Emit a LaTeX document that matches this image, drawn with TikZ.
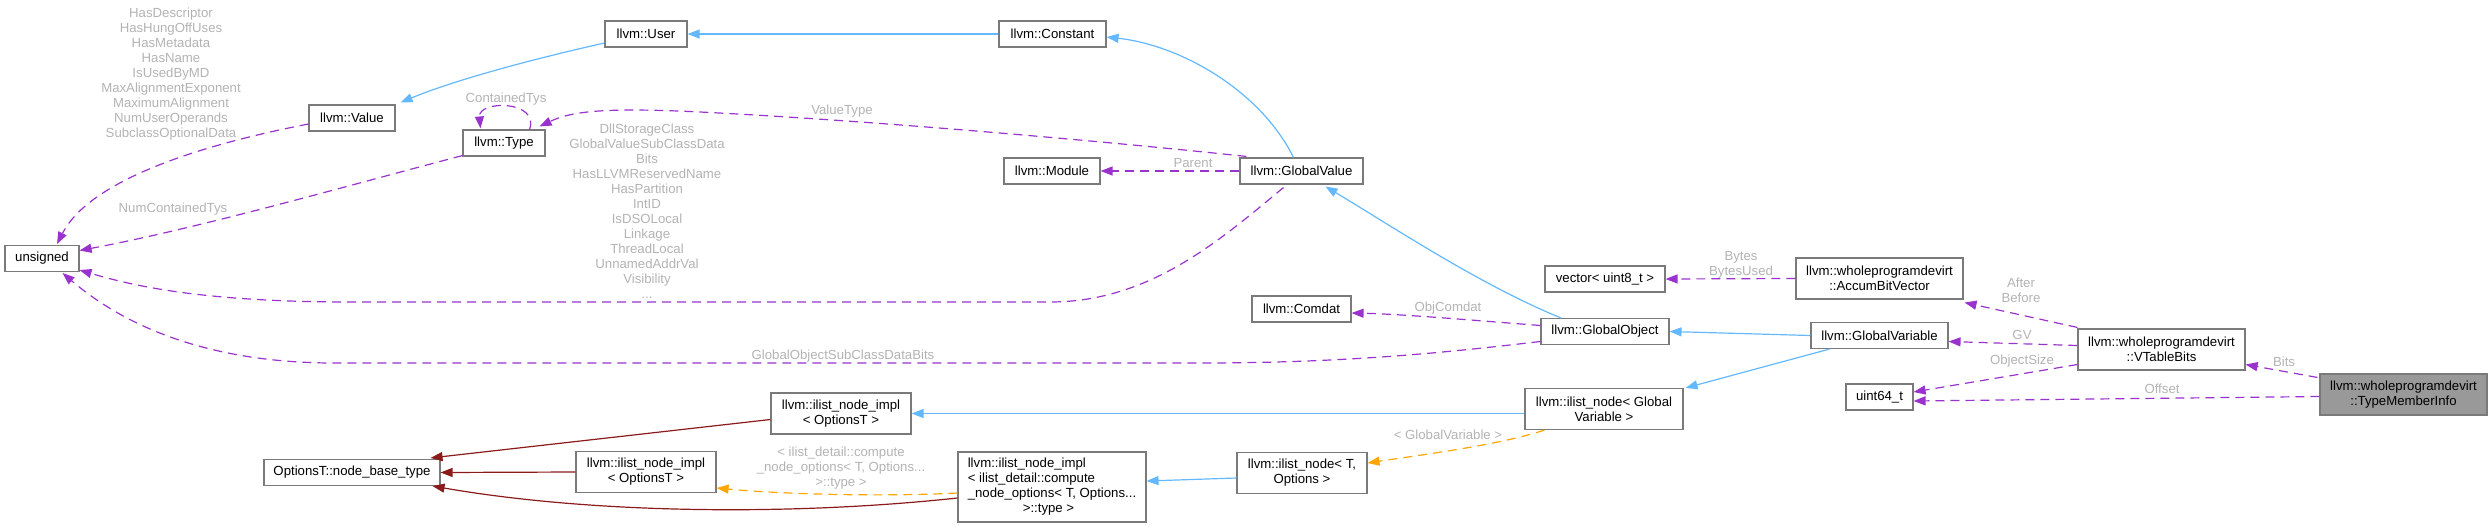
\documentclass[tikz,border=0pt]{standalone}
\usepackage{fontspec}
\setmainfont{Liberation Sans}
\usetikzlibrary{arrows.meta,calc}
\definecolor{eblue}{HTML}{63B8FF}
\definecolor{epurple}{HTML}{9A32CD}
\definecolor{eorange}{HTML}{FFA500}
\definecolor{ered}{HTML}{8B1A1A}
\definecolor{boxgray}{HTML}{7A7A7A}
\definecolor{labgray}{HTML}{B3B3B3}
\definecolor{selfill}{HTML}{999999}
\begin{document}
\begin{tikzpicture}[x=1pt,y=-1pt,
  font=\fontsize{13.2}{15}\selectfont,
  cls/.style={draw=boxgray, line width=1.1pt, fill=white, inner sep=0pt, align=center, minimum height=26},
  tall/.style={minimum height=41},
  sel/.style={fill=selfill},
  lab/.style={text=labgray, align=center, inner sep=0pt},
  tip/.style={-{Triangle[length=12pt,width=9pt]}},
  pub/.style={tip, draw=eblue, line width=1.2pt},
  priv/.style={tip, draw=ered, line width=1.2pt},
  use/.style={tip, draw=epurple, line width=1.2pt, dash pattern=on 9pt off 6pt},
  tmpl/.style={tip, draw=eorange, line width=1.2pt, dash pattern=on 9pt off 6pt}]
\useasboundingbox (0,0) rectangle (2492,528);

% nodes
\node[cls, minimum width=74] (unsigned) at (42,258.5) {unsigned};
\node[cls, minimum width=86] (Value) at (352,118) {llvm::Value};
\node[cls, minimum width=82] (User) at (646,34) {llvm::User};
\node[cls, minimum width=107] (Constant) at (1052.5,34) {llvm::Constant};
\node[cls, minimum width=82] (Type) at (504,143) {llvm::Type};
\node[cls, minimum width=96] (Module) at (1052,171) {llvm::Module};
\node[cls, minimum width=123] (GV) at (1301.5,171) {llvm::GlobalValue};
\node[cls, minimum width=99] (Comdat) at (1301.5,309) {llvm::Comdat};
\node[cls, minimum width=128] (GO) at (1605,331.5) {llvm::GlobalObject};
\node[cls, minimum width=120] (vector) at (1605,279) {vector< uint8\_t >};
\node[cls, tall, minimum width=167] (ABV) at (1879.5,278.5) {llvm::wholeprogramdevirt\\::AccumBitVector};
\node[cls, minimum width=137] (GVar) at (1879.5,335.5) {llvm::GlobalVariable};
\node[cls, tall, minimum width=167] (VTB) at (2161.5,349.5) {llvm::wholeprogramdevirt\\::VTableBits};
\node[cls, minimum width=67] (uint64) at (1879.5,397) {uint64\_t};
\node[cls, tall, sel, minimum width=167] (TMI) at (2403.5,394.5) {llvm::wholeprogramdevirt\\::TypeMemberInfo};
\node[cls, tall, minimum width=158] (ilGV) at (1604,409) {llvm::ilist\_node< Global\\Variable >};
\node[cls, tall, minimum width=140] (impl1) at (841,413.5) {llvm::ilist\_node\_impl\\< OptionsT >};
\node[cls, minimum width=176] (nbt) at (352,472.5) {OptionsT::node\_base\_type};
\node[cls, tall, minimum width=140] (impl2) at (646,472) {llvm::ilist\_node\_impl\\< OptionsT >};
\node[cls, minimum width=188, minimum height=70, align=left] (comp) at (1052,487) {llvm::ilist\_node\_impl\\< ilist\_detail::compute\\\_node\_options< T, Options...\\\hspace*{55pt}>::type >};
\node[cls, tall, minimum width=130] (ilTO) at (1302,473) {llvm::ilist\_node< T,\\Options >};

% edges: inheritance
\draw[pub] ($(User.west)+(0,9)$) .. controls (520,62) and (450,82) .. ($(Value.north east)+(5,-2)$);
\draw[pub] (Constant.west) -- (User.east);
\draw[pub] ($(GV.north)+(-8,0)$) .. controls (1260,90) and (1180,45) .. ($(Constant.east)+(0,3)$);
\draw[pub] ($(GO.north)+(-44,0)$) .. controls (1480,285) and (1390,225) .. ($(GV.south)+(24,2)$);
\draw[pub] (GVar.west) -- (GO.east);
\draw[pub] ($(GVar.south)+(-50,0)$) -- ($(ilGV.north east)+(2,0)$);
\draw[pub] (ilGV.west |- impl1.east) -- (impl1.east);
\draw[pub] ($(ilTO.west)+(0,5)$) -- ($(comp.east)+(0,-6)$);
\draw[priv] ($(impl1.west)+(0,6)$) -- ($(nbt.north east)+(-10,-1)$);
\draw[priv] (impl2.west) -- (nbt.east);
\draw[priv] ($(comp.west)+(0,11)$) .. controls (800,515) and (600,515) .. ($(nbt.south east)+(-8,0)$);

% edges: template
\draw[tmpl] ($(ilGV.south west)+(20,0)$) .. controls (1500,445) and (1420,455) .. ($(ilTO.east)+(0,-10)$);
\draw[tmpl] ($(comp.west)+(0,6)$) .. controls (880,497) and (780,494) .. ($(impl2.east)+(0,16)$);

% edges: usage
\draw[use] (GV.west) -- (Module.east);
\draw[use] ($(GV.north west)+(7,-1)$) .. controls (1150,146) and (900,122) .. (700,112) .. controls (600,107) and (570,112) .. ($(Type.north east)+(-6,-3)$);
\draw[use] ($(Type.north east)+(-16,0)$) .. controls (540,100) and (478,100) .. ($(Type.north west)+(18,-1)$);
\draw[use] ($(Value.west)+(0,6)$) .. controls (200,145) and (90,180) .. ($(unsigned.north)+(15,-1)$);
\draw[use] ($(Type.south west)+(0,-1)$) .. controls (350,185) and (200,228) .. ($(unsigned.east)+(0,-8)$);
\draw[use] ($(GV.south)+(-18,3)$) .. controls (1220,240) and (1150,302) .. (1050,302) -- (350,302) .. controls (200,302) and (130,285) .. ($(unsigned.south east)+(0,-2)$);
\draw[use] ($(GO.west)+(0,10)$) .. controls (1450,352) and (1350,363) .. (1200,363) -- (330,363) .. controls (200,362) and (120,322) .. ($(unsigned.south east)+(-17,1)$);
\draw[use] ($(GO.west)+(0,-6)$) .. controls (1470,320) and (1400,314) .. ($(Comdat.east)+(0,4)$);
\draw[use] (ABV.west) -- (vector.east);
\draw[use] ($(VTB.north west)+(0,-1)$) -- ($(ABV.south east)+(1,3)$);
\draw[use] ($(VTB.west)+(0,-4)$) -- ($(GVar.east)+(0,6)$);
\draw[use] ($(VTB.west)+(0,15)$) -- ($(uint64.east)+(0,-5)$);
\draw[use] ($(TMI.north west)+(-2,4)$) -- ($(VTB.east)+(0,15)$);
\draw[use] ($(TMI.west)+(0,2)$) -- ($(uint64.east)+(0,4)$);

% labels
\node[lab] (lValue) at (171,74) {HasDescriptor\\HasHungOffUses\\HasMetadata\\HasName\\IsUsedByMD\\MaxAlignmentExponent\\MaximumAlignment\\NumUserOperands\\SubclassOptionalData};
\node[lab] (lNCT) at (173,209) {NumContainedTys};
\node[lab] (lCT) at (506,99) {ContainedTys};
\node[lab] (lVT) at (842,111) {ValueType};
\node[lab] (lGV) at (647,211.5) {DllStorageClass\\GlobalValueSubClassData\\Bits\\HasLLVMReservedName\\HasPartition\\IntID\\IsDSOLocal\\Linkage\\ThreadLocal\\UnnamedAddrVal\\Visibility\\...};
\node[lab] (lParent) at (1193,163) {Parent};
\node[lab] (lGOSC) at (843,356) {GlobalObjectSubClassDataBits};
\node[lab] (lObjComdat) at (1448,308) {ObjComdat};
\node[lab] (lBytes) at (1741,264.5) {Bytes\\BytesUsed};
\node[lab] (lAB) at (2021,290.5) {After\\Before};
\node[lab] (lGVl) at (2022,335) {GV};
\node[lab] (lOS) at (2022,361) {ObjectSize};
\node[lab] (lBits) at (2284,362) {Bits};
\node[lab] (lOffset) at (2162,389) {Offset};
\node[lab] (lGVar) at (1448,435) {< GlobalVariable >};
\node[lab] (lComp) at (841,468) {< ilist\_detail::compute\\\_node\_options< T, Options...\\>::type >};
\end{tikzpicture}
\end{document}
